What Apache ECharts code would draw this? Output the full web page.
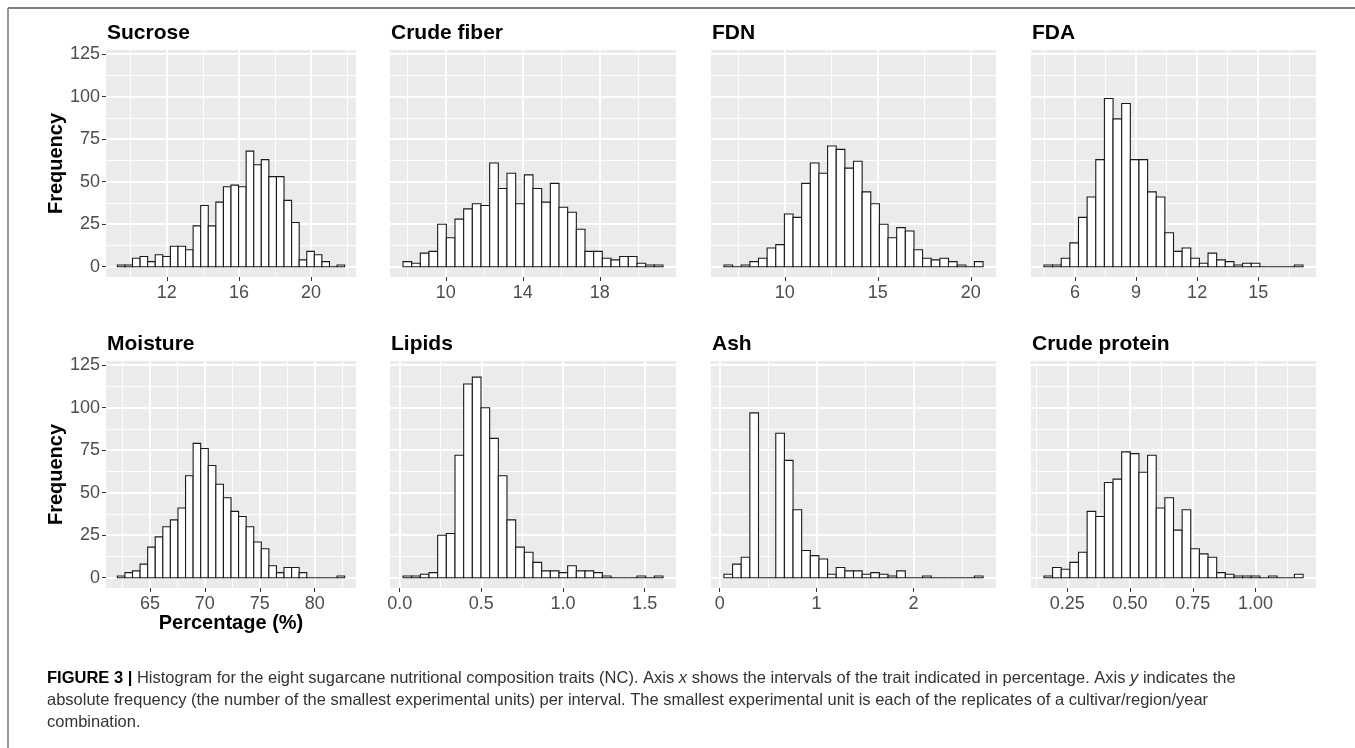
<!DOCTYPE html>
<html>
<head>
<meta charset="utf-8">
<script src="https://cdn.jsdelivr.net/npm/echarts@6/dist/echarts.min.js"></script>
<style>
  html, body { margin: 0; padding: 0; background: #fff; }
  #chart { width: 1355px; height: 748px; }
</style>
</head>
<body>
<div id="chart"></div>
<script>
const traits = ["Sucrose", "Crude fiber", "FDN", "FDA", "Moisture", "Lipids", "Ash", "Crude protein"];

// left edge of first bin and bin width (30 bins per trait)
const binStart = [9.26, 7.78, 6.73, 4.48, 62.03, 0.0204, 0.044, 0.157];
const binWidth = [0.42, 0.45, 0.4643, 0.424, 0.69, 0.05307, 0.08917, 0.0344];

const sucrose = [1, 1, 5, 6, 3, 7, 6, 12, 12, 10, 24, 36, 24, 38, 47, 48, 47, 68, 60, 63, 53, 53, 39, 26, 4, 9, 7, 3, 0, 1];
const crudeFiber = [3, 2, 8, 9, 25, 17, 28, 34, 37, 36, 61, 46, 55, 37, 54, 46, 38, 49, 35, 32, 22, 9, 9, 5, 4, 6, 6, 2, 1, 1];
const fdn = [1, 0, 1, 3, 5, 11, 13, 31, 29, 49, 61, 55, 71, 69, 58, 62, 44, 37, 25, 17, 23, 21, 10, 5, 4, 5, 3, 1, 0, 3];
const fda = [1, 1, 5, 14, 29, 41, 63, 99, 87, 96, 63, 63, 44, 41, 20, 9, 11, 5, 2, 8, 4, 3, 1, 2, 2, 0, 0, 0, 0, 1];
const moisture = [1, 3, 4, 8, 18, 24, 30, 34, 41, 60, 79, 76, 66, 55, 47, 39, 36, 30, 21, 17, 7, 3, 6, 6, 3, 0, 0, 0, 0, 1];
const lipids = [1, 1, 2, 3, 25, 26, 72, 114, 118, 100, 82, 60, 34, 18, 15, 9, 4, 4, 3, 7, 4, 4, 3, 1, 0, 0, 0, 1, 0, 1];
const ash = [2, 8, 12, 97, 0, 0, 85, 69, 40, 16, 13, 11, 2, 6, 4, 4, 2, 3, 2, 1, 4, 0, 0, 1, 0, 0, 0, 0, 0, 1];
const crudeProtein = [1, 6, 5, 9, 15, 39, 36, 56, 58, 74, 73, 62, 72, 41, 47, 28, 40, 17, 14, 12, 3, 2, 1, 1, 1, 0, 1, 0, 0, 2];
const counts = [sucrose, crudeFiber, fdn, fda, moisture, lipids, ash, crudeProtein];

const majorTicks = [[12, 16, 20], [10, 14, 18], [10, 15, 20], [6, 9, 12, 15], [65, 70, 75, 80], [0, 0.5, 1, 1.5], [0, 1, 2], [0.25, 0.5, 0.75, 1]];
const minorTicks = [[10, 14, 18, 22], [8, 12, 16, 20], [7.5, 12.5, 17.5], [4.5, 7.5, 10.5, 13.5, 16.5], [62.5, 67.5, 72.5, 77.5, 82.5], [0.25, 0.75, 1.25], [0.5, 1.5, 2.5], [0.125, 0.375, 0.625, 0.875, 1.125]];
const labelDecimals = [0, 0, 0, 0, 0, 1, 0, 2];
const freqTicks = [0, 25, 50, 75, 100, 125];
const freqMinor = [12.5, 37.5, 62.5, 87.5, 112.5];

const captionLines = [
  "{b|FIGURE 3 |} Histogram for the eight sugarcane nutritional composition traits (NC). Axis {i|x} shows the intervals of the trait indicated in percentage. Axis {i|y} indicates the",
  "absolute frequency (the number of the smallest experimental units) per interval. The smallest experimental unit is each of the replicates of a cultivar/region/year",
  "combination."
];

// layout
const plotLeft = [106, 390, 711, 1031];
const plotWidth = [250, 286, 285, 285];
const plotTop = [50, 361];
const plotHeight = 227;
const yMin = -6.07, yMax = 127.5;
const font = "Liberation Sans, Arial, sans-serif";
const capFont = "Liberation Sans, Arial, sans-serif";

const grids = [], xAxes = [], yAxes = [], series = [], titles = [];

traits.forEach((name, i) => {
  const col = i % 4, row = Math.floor(i / 4);
  const span = binWidth[i] * counts[i].length;
  const xMin = binStart[i] - 0.05 * span;
  const xMax = binStart[i] + span + 0.05 * span;

  grids.push({
    left: plotLeft[col], top: plotTop[row], width: plotWidth[col], height: plotHeight,
    show: true, backgroundColor: "#EBEBEB", borderWidth: 0
  });

  titles.push({
    text: name, left: plotLeft[col] + 1, top: plotTop[row] - 27, padding: 0,
    textStyle: { fontSize: 21, fontWeight: "bold", color: "#000", fontFamily: font }
  });

  xAxes.push({
    type: "value", gridIndex: i, min: xMin, max: xMax,
    axisLine: { show: false, onZero: false },
    axisTick: { show: true, customValues: majorTicks[i], length: 4, lineStyle: { color: "#333" } },
    axisLabel: {
      customValues: majorTicks[i], fontSize: 18, color: "#4D4D4D", margin: 7, fontFamily: font,
      formatter: (v) => Number(v).toFixed(labelDecimals[i])
    },
    splitLine: { show: true, lineStyle: { color: "#fff", width: 1.8 } },
    name: i === 4 ? "Percentage (%)" : "",
    nameLocation: "middle", nameGap: 24,
    nameTextStyle: { fontSize: 20, fontWeight: "bold", color: "#000", fontFamily: font }
  });
  xAxes.push({
    type: "value", gridIndex: i, min: xMin, max: xMax,
    axisLine: { show: false, onZero: false },
    axisTick: { show: false, customValues: minorTicks[i] },
    axisLabel: { show: false },
    splitLine: { show: true, lineStyle: { color: "#fff", width: 0.9 } }
  });

  yAxes.push({
    type: "value", gridIndex: i, min: yMin, max: yMax,
    axisLine: { show: false, onZero: false },
    axisTick: { show: col === 0, customValues: freqTicks, length: 4, lineStyle: { color: "#333" } },
    axisLabel: { show: col === 0, customValues: freqTicks, fontSize: 18, color: "#4D4D4D", margin: 6, fontFamily: font },
    splitLine: { show: true, lineStyle: { color: "#fff", width: 1.8 } },
    name: col === 0 ? "Frequency" : "",
    nameLocation: "middle", nameRotate: 90, nameGap: 39,
    nameTextStyle: { fontSize: 20, fontWeight: "bold", color: "#000", fontFamily: font }
  });
  yAxes.push({
    type: "value", gridIndex: i, min: yMin, max: yMax,
    axisLine: { show: false, onZero: false },
    axisTick: { show: false, customValues: freqMinor },
    axisLabel: { show: false },
    splitLine: { show: true, lineStyle: { color: "#fff", width: 0.9 } }
  });

  series.push({
    type: "custom",
    xAxisIndex: 2 * i,
    yAxisIndex: 2 * i,
    silent: true,
    z: 3,
    data: counts[i].map((c, k) => [binStart[i] + k * binWidth[i], binStart[i] + (k + 1) * binWidth[i], c]),
    encode: { x: [0, 1], y: 2 },
    renderItem: (params, api) => {
      const p0 = api.coord([api.value(0), api.value(2)]);
      const p1 = api.coord([api.value(1), 0]);
      return {
        type: "rect",
        shape: { x: p0[0], y: p0[1], width: p1[0] - p0[0], height: p1[1] - p0[1] },
        style: { fill: "#fff", stroke: "#1a1a1a", lineWidth: 1.1 }
      };
    }
  });
});

const captionY = [679, 701, 723];
const graphic = [
  { type: "line", shape: { x1: 8, y1: 8, x2: 1355, y2: 8 }, style: { stroke: "#555", lineWidth: 1.5 } },
  { type: "line", shape: { x1: 8, y1: 8, x2: 8, y2: 748 }, style: { stroke: "#777", lineWidth: 1.5 } }
];
captionLines.forEach((t, k) => {
  graphic.push({
    type: "text", left: 47, top: captionY[k] - 9,
    style: {
      text: t, fontSize: 16.5, fontFamily: capFont, fill: "#333",
      rich: {
        b: { fontWeight: "bold", fill: "#000", fontSize: 16.5, fontFamily: capFont },
        i: { fontStyle: "italic", fill: "#333", fontSize: 16.5, fontFamily: capFont }
      }
    }
  });
});

const chart = echarts.init(document.getElementById("chart"), null, { renderer: "canvas" });
chart.setOption({
  animation: false,
  backgroundColor: "#fff",
  title: titles,
  grid: grids,
  xAxis: xAxes,
  yAxis: yAxes,
  series: series,
  graphic: graphic
});
</script>
</body>
</html>
